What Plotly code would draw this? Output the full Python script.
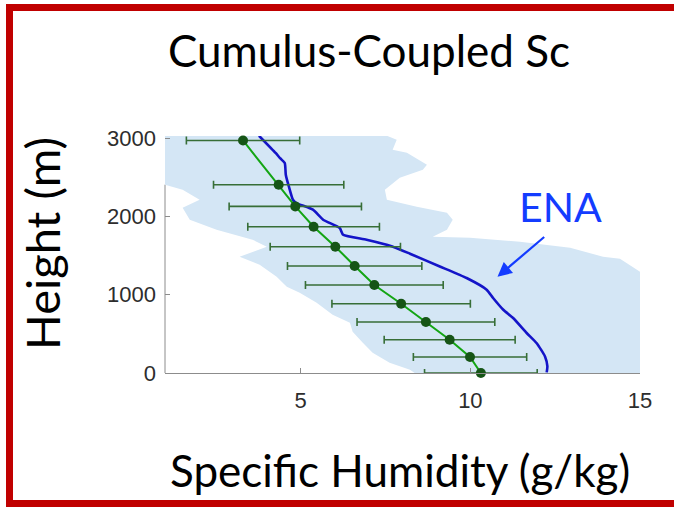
import plotly.graph_objects as go

# ---- data -------------------------------------------------------------
# Mean specific humidity profile with +/- spread (green)
q_mean = [3.30, 4.35, 4.84, 5.38, 6.02, 6.59, 7.17, 7.96, 8.69, 9.39, 9.99, 10.31]
q_height = [2970, 2405, 2128, 1868, 1613, 1367, 1124, 885, 651, 425, 204, 0]
q_spread = [1.67, 1.92, 1.95, 1.94, 1.92, 1.98, 2.03, 2.04, 2.03, 1.93, 1.67, 1.66]

# ENA profile (blue)
ena_q = [3.77, 4.26, 4.40, 4.53, 4.56, 4.65, 4.77, 4.87, 5.36, 5.66, 6.15, 6.25, 6.94,
         7.63, 8.22, 9.10, 9.89, 10.48, 10.67, 10.97, 11.26, 11.66, 11.95, 12.20,
         12.27, 12.25]
ena_h = [3030, 2810, 2740, 2682, 2533, 2383, 2213, 2171, 2086, 1958, 1852, 1766, 1702,
         1626, 1524, 1361, 1213, 1064, 958, 808, 702, 511, 383, 212, 84, 8]

# Envelope of all profiles (light blue band): left edge top->bottom
env_left_q = [1.0, 1.0, 1.52, 2.02, 1.52, 1.73, 2.52, 3.58, 4.00, 3.20, 3.79, 4.29,
              4.59, 4.97, 5.47, 5.94, 6.45, 6.53, 6.83, 7.12, 7.62, 8.22, 8.36]
env_left_h = [3030, 2405, 2341, 2213, 2111, 1958, 1830, 1703, 1613, 1485, 1383, 1230,
              1102, 1025, 897, 745, 642, 528, 387, 260, 132, 42, 0]
# right edge top->bottom
env_right_q = [7.54, 7.83, 7.71, 8.13, 8.72, 8.60, 7.92, 7.48, 7.54, 8.42, 9.31, 9.48,
               9.31, 8.89, 9.99, 11.46, 12.94, 13.91, 14.41, 15.0, 15.0]
env_right_h = [3030, 2980, 2852, 2813, 2660, 2596, 2494, 2341, 2213, 2124, 2047, 1958,
               1830, 1741, 1728, 1677, 1600, 1485, 1460, 1294, 0]

x_ticks = [5, 10, 15]
y_ticks = [0, 1000, 2000, 3000]
x_range = [1, 15]
y_range = [0, 3027]

# ---- page geometry ----------------------------------------------------
W, H = 674, 507
L, R, T, B = 165, 640, 136, 373


def fx(px):
    return (px - L) / (R - L)


def fy(py):
    return (B - py) / (B - T)


fig = go.Figure()

# light-blue envelope
band_q = env_left_q + env_right_q[::-1]
band_h = env_left_h + env_right_h[::-1]
fig.add_trace(go.Scatter(
    x=band_q, y=band_h, fill="toself", mode="lines",
    line=dict(width=0), fillcolor="rgb(212,230,245)", hoverinfo="skip",
    showlegend=False,
))

# ENA profile
fig.add_trace(go.Scatter(
    x=ena_q, y=ena_h, mode="lines",
    line=dict(color="rgb(20,20,200)", width=2.6, shape="spline", smoothing=0.5),
    showlegend=False,
))

# mean profile with horizontal spread bars
fig.add_trace(go.Scatter(
    x=q_mean, y=q_height, mode="lines+markers",
    line=dict(color="rgb(20,165,20)", width=2),
    marker=dict(color="rgb(22,85,22)", size=10),
    error_x=dict(type="data", array=q_spread, symmetric=True,
                 color="rgb(55,110,55)", thickness=1.6, width=4),
    cliponaxis=False, showlegend=False,
))

# left axis line only where the envelope leaves the plot edge
edge_h = min(h for q, h in zip(env_left_q, env_left_h) if q <= x_range[0])
shapes = [dict(type="line", xref="paper", yref="y", x0=0, x1=0, y0=y_range[0], y1=edge_h,
               line=dict(color="rgb(140,140,140)", width=1), layer="below")]

# red frame around the panel
red = "rgb(192,0,0)"
for x0, y0, x1, y1 in [(6, 4, 13, 507), (6, 4, 680, 11), (6, 500, 680, 507)]:
    shapes.append(dict(type="rect", xref="paper", yref="paper",
                       x0=fx(x0), x1=fx(x1), y0=fy(y1), y1=fy(y0),
                       fillcolor=red, line=dict(width=0), layer="above"))

text_font = "Lato, Open Sans, sans-serif"
annotations = [
    dict(text="Cumulus-Coupled Sc", xref="paper", yref="paper", x=fx(369), y=fy(50),
         showarrow=False, font=dict(family=text_font, size=44, color="black"),
         xanchor="center", yanchor="middle"),
    dict(text="Specific Humidity (g/kg)", xref="paper", yref="paper", x=fx(400), y=fy(470),
         showarrow=False, font=dict(family=text_font, size=44, color="black"),
         xanchor="center", yanchor="middle"),
    dict(text="Height (m)", xref="paper", yref="paper", x=fx(42), y=fy(243), textangle=-90,
         showarrow=False, font=dict(family=text_font, size=47, color="black"),
         xanchor="center", yanchor="middle"),
    dict(text="ENA", xref="paper", yref="paper", x=fx(560), y=fy(206),
         showarrow=False, font=dict(family=text_font, size=41, color="rgb(20,60,255)"),
         xanchor="center", yanchor="middle"),
    dict(text="", xref="x", yref="y", x=10.80, y=1230, axref="x", ayref="y",
         ax=12.22, ay=1753, showarrow=True, arrowhead=2, arrowsize=1.3,
         arrowwidth=2.2, arrowcolor="rgb(20,60,255)"),
]

tick_font = dict(family="Liberation Sans, Arial, sans-serif", size=22, color="rgb(45,45,45)")

fig.update_layout(
    width=W, height=H,
    margin=dict(l=L, r=W - R, t=T, b=H - B, pad=0),
    paper_bgcolor="white", plot_bgcolor="white",
    shapes=shapes, annotations=annotations,
    xaxis=dict(range=x_range, tickvals=x_ticks, ticks="inside", ticklen=5,
               tickcolor="rgb(140,140,140)", showline=True, linecolor="rgb(140,140,140)",
               linewidth=1, showgrid=False, zeroline=False, tickfont=tick_font,
               ticklabelstandoff=8, layer="above traces"),
    yaxis=dict(range=y_range, tickvals=y_ticks, ticks="inside", ticklen=5,
               tickcolor="rgb(140,140,140)", showline=False, showgrid=False,
               zeroline=False, tickfont=tick_font, ticklabelstandoff=8),
)

fig.write_html("out.html")
